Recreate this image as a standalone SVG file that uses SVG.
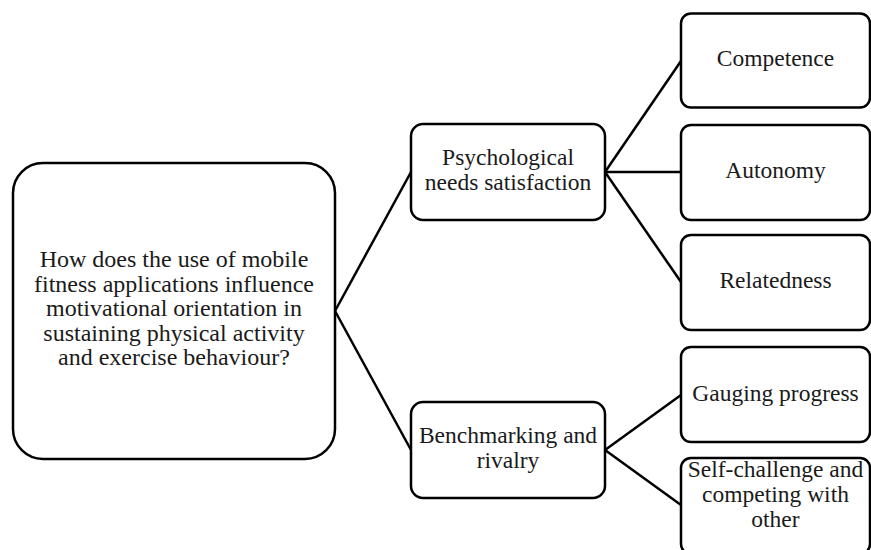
<svg xmlns="http://www.w3.org/2000/svg" width="871" height="550" viewBox="0 0 871 550">
<style>
.box{fill:#fff;stroke:#000;stroke-width:2.5}
.t{font-size:23.5px;fill:#1a1a1a;text-anchor:middle}
.m{font-size:24px}
.c{stroke:#000;stroke-width:2.5;fill:none}
</style>
<rect width="871" height="550" fill="#fff"/>
<g id="connectors">
<line class="c" x1="335" y1="311" x2="411" y2="172"/>
<line class="c" x1="335" y1="311" x2="411" y2="450"/>
<line class="c" x1="605" y1="172" x2="681" y2="61"/>
<line class="c" x1="605" y1="172" x2="681" y2="172"/>
<line class="c" x1="605" y1="172" x2="681" y2="282"/>
<line class="c" x1="605" y1="450" x2="681" y2="395"/>
<line class="c" x1="605" y1="450" x2="681" y2="505"/>
</g>
<g font-family="Liberation Serif, Tinos, DejaVu Serif, serif">
<g id="main">
<rect class="box" x="13" y="163" width="322" height="296" rx="30"/>
<text class="t m" x="174"><tspan x="174" y="267">How does the use of mobile</tspan><tspan x="174" y="291.6">fitness applications influence</tspan><tspan x="174" y="316.2">motivational orientation in</tspan><tspan x="174" y="340.8">sustaining physical activity</tspan><tspan x="174" y="365.4">and exercise behaviour?</tspan></text>
</g>
<g id="psych">
<rect class="box" x="411" y="124" width="194" height="96" rx="12"/>
<text class="t"><tspan x="508" y="165.3">Psychological</tspan><tspan x="508" y="190.3">needs satisfaction</tspan></text>
</g>
<g id="bench">
<rect class="box" x="411" y="402" width="194" height="96" rx="12"/>
<text class="t"><tspan x="508" y="442.5">Benchmarking and</tspan><tspan x="508" y="468">rivalry</tspan></text>
</g>
<g id="competence">
<rect class="box" x="681" y="13.5" width="189" height="94" rx="10"/>
<text class="t" x="775.5" y="66">Competence</text>
</g>
<g id="autonomy">
<rect class="box" x="681" y="125" width="189" height="95" rx="10"/>
<text class="t" x="775.5" y="177.5">Autonomy</text>
</g>
<g id="relatedness">
<rect class="box" x="681" y="235" width="189" height="95" rx="10"/>
<text class="t" x="775.5" y="287.5">Relatedness</text>
</g>
<g id="gauging">
<rect class="box" x="681" y="347" width="189" height="95" rx="10"/>
<text class="t" x="775.5" y="400.5">Gauging progress</text>
</g>
<g id="selfchallenge">
<rect class="box" x="681" y="458" width="189" height="96" rx="10"/>
<text class="t"><tspan x="775.5" y="477">Self-challenge and</tspan><tspan x="775.5" y="502">competing with</tspan><tspan x="775.5" y="527">other</tspan></text>
</g>
</g>
</svg>
